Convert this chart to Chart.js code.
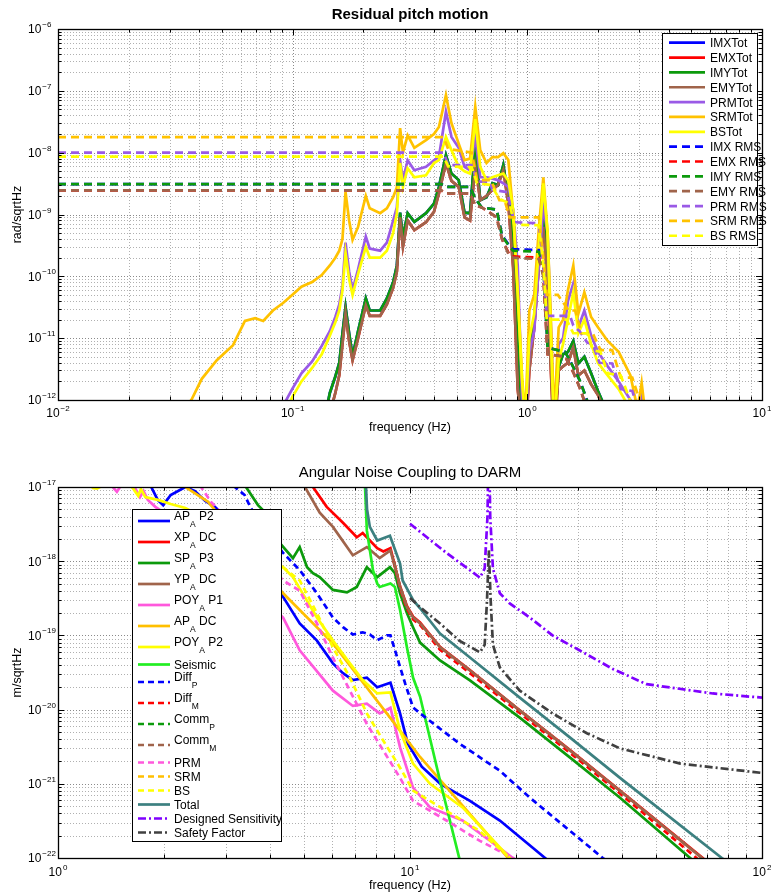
<!DOCTYPE html>
<html>
<head>
<meta charset="utf-8">
<script src="https://cdn.jsdelivr.net/npm/chart.js@4.4.1/dist/chart.umd.min.js"></script>
<style>
  html, body { margin: 0; padding: 0; background: #fff; }
  #wrap { position: relative; width: 771px; height: 895px; }
  canvas { position: absolute; left: 0; }
  #top { top: 0; }
  #bottom { top: 445px; }
</style>
</head>
<body>
<div id="wrap">
  <canvas id="top" width="771" height="445"></canvas>
  <canvas id="bottom" width="771" height="450"></canvas>
</div>
<script>
// ---------- Residual pitch motion (rad/sqrtHz) ----------
var topFreq = [
  0.035, 0.037, 0.041, 0.0475, 0.0557, 0.0626, 0.0692, 0.0749, 0.0824, 0.091, 0.0995, 0.109,
  0.121, 0.133, 0.144, 0.152, 0.158, 0.163, 0.168, 0.174, 0.18, 0.19, 0.205, 0.213,
  0.236, 0.252, 0.268, 0.278, 0.287, 0.295, 0.309, 0.33, 0.37, 0.40, 0.42, 0.45,
  0.475, 0.51, 0.54, 0.57, 0.60, 0.63, 0.67, 0.71, 0.75, 0.79, 0.83, 0.87,
  0.91, 0.95, 0.98, 1.02, 1.07, 1.12, 1.17, 1.22, 1.26, 1.30, 1.36, 1.42,
  1.49, 1.57, 1.65, 1.75, 1.87, 2.0, 2.2, 2.45, 2.75, 2.95, 3.07, 3.2
];
var imxTot = [
  1e-13, 1e-13, 1e-13, 1e-13, 1e-13, 1e-13, 1e-13, 1e-13, 1e-13, 1e-13, 1e-13, 1e-13,
  1e-13, 3e-13, 1.3e-12, 2.4e-12, 4e-12, 1.2e-11, 3.2e-11, 1.2e-11, 5.2e-12, 1.3e-11, 4.4e-11, 2.8e-11,
  2.8e-11, 4.4e-11, 8e-11, 1.5e-10, 1.07e-9, 4.3e-10, 1.05e-9, 7.6e-10, 1.05e-9, 1.5e-9, 2.8e-9, 9.1e-9,
  4.6e-9, 3.6e-9, 1.07e-9, 1.05e-9, 1.3e-8, 1.7e-9, 1.9e-9, 3.2e-9, 3e-9, 6.3e-9, 1.9e-9, 4.3e-10,
  1.2e-11, 5e-13, 3e-13, 5e-12, 2e-11, 2e-10, 1.15e-9, 1.4e-10, 5e-12, 3e-13, 3.4e-12, 5.5e-12,
  6e-12, 9e-12, 3.9e-12, 5e-12, 2.7e-12, 1.4e-12, 6e-13, 2e-13, 1e-13, 1e-13, 1e-13, 1e-13
];
var emxTot = [
  1e-13, 1e-13, 1e-13, 1e-13, 1e-13, 1e-13, 1e-13, 1e-13, 1e-13, 1e-13, 1e-13, 1e-13,
  1e-13, 2e-13, 6e-13, 1.3e-12, 2.5e-12, 8e-12, 2.5e-11, 9e-12, 4.4e-12, 1e-11, 3.4e-11, 2.3e-11,
  2.3e-11, 3.5e-11, 6.5e-11, 1.2e-10, 9e-10, 3e-10, 8e-10, 5.6e-10, 7.5e-10, 1.1e-9, 2.2e-9, 6.8e-9,
  3.5e-9, 2.8e-9, 9e-10, 8e-10, 5.9e-9, 1.7e-9, 2e-9, 2.5e-9, 3e-9, 5.2e-9, 1.5e-9, 1.4e-10,
  1.5e-12, 3e-13, 2e-13, 3e-12, 1.5e-11, 1.5e-10, 6.6e-10, 8e-11, 3e-12, 2e-13, 3e-12, 3.5e-12,
  4e-12, 7e-12, 2.5e-12, 3e-12, 1.8e-12, 1.2e-12, 5e-13, 1e-13, 1e-13, 1e-13, 1e-13, 1e-13
];
var imyTot = [
  1e-13, 1e-13, 1e-13, 1e-13, 1e-13, 1e-13, 1e-13, 1e-13, 1e-13, 1e-13, 1e-13, 1e-13,
  1e-13, 3e-13, 1.3e-12, 2.4e-12, 4e-12, 1.2e-11, 3.2e-11, 1.2e-11, 5.2e-12, 1.3e-11, 4.4e-11, 2.8e-11,
  2.8e-11, 4.4e-11, 8e-11, 1.5e-10, 1.07e-9, 4.3e-10, 1.05e-9, 7.6e-10, 1.05e-9, 1.5e-9, 2.8e-9, 9.1e-9,
  4.6e-9, 3.6e-9, 1.07e-9, 1.05e-9, 1.3e-8, 1.7e-9, 1.9e-9, 3.2e-9, 3e-9, 6.3e-9, 1.9e-9, 4.3e-10,
  1.2e-11, 5e-13, 3e-13, 5e-12, 2e-11, 2e-10, 1.05e-9, 1.4e-10, 5e-12, 3e-13, 3.4e-12, 5.5e-12,
  6e-12, 9e-12, 3.9e-12, 5e-12, 2.7e-12, 1.4e-12, 6e-13, 2e-13, 1e-13, 1e-13, 1e-13, 1e-13
];
var emyTot = [
  1e-13, 1e-13, 1e-13, 1e-13, 1e-13, 1e-13, 1e-13, 1e-13, 1e-13, 1e-13, 1e-13, 1e-13,
  1e-13, 2e-13, 6e-13, 1.3e-12, 2.5e-12, 8e-12, 2.5e-11, 9e-12, 4.4e-12, 1e-11, 3.4e-11, 2.3e-11,
  2.3e-11, 3.5e-11, 6.5e-11, 1.2e-10, 9e-10, 3e-10, 8e-10, 5.6e-10, 7.5e-10, 1.1e-9, 2.2e-9, 6.8e-9,
  3.5e-9, 2.8e-9, 9e-10, 8e-10, 5.9e-9, 1.7e-9, 2e-9, 2.5e-9, 3e-9, 5.2e-9, 1.5e-9, 1.4e-10,
  1.5e-12, 3e-13, 2e-13, 3e-12, 1.5e-11, 1.5e-10, 6.3e-10, 8e-11, 3e-12, 2e-13, 3e-12, 3.5e-12,
  4e-12, 7e-12, 2.5e-12, 3e-12, 1.8e-12, 1.2e-12, 5e-13, 1e-13, 1e-13, 1e-13, 1e-13, 1e-13
];
var prmTot = [
  1e-13, 1e-13, 1e-13, 1e-13, 1e-13, 1e-13, 1e-13, 1e-13, 3e-13, 8e-13, 1.5e-12, 2.7e-12,
  4.2e-12, 7.5e-12, 1.3e-11, 2.2e-11, 3.5e-11, 7e-11, 3.5e-10, 1.2e-10, 6e-11, 1.3e-10, 4.4e-10, 2.8e-10,
  2.6e-10, 3.5e-10, 8e-10, 1.3e-9, 7.5e-9, 3.6e-9, 7.5e-9, 5.2e-9, 5.9e-9, 7.5e-9, 8.5e-9, 4.6e-8,
  1.8e-8, 1.2e-8, 5.9e-9, 5.2e-9, 1.8e-8, 4e-9, 4e-9, 3.8e-9, 3.6e-9, 3.2e-9, 2.8e-9, 1.2e-9,
  1.5e-10, 1e-12, 3e-13, 6e-12, 1.3e-11, 1.5e-10, 1.3e-9, 5e-10, 1.5e-11, 4e-13, 8e-12, 1e-11,
  4e-11, 7.7e-11, 1.5e-11, 2.8e-11, 1.1e-11, 6e-12, 3.5e-12, 2e-12, 1e-12, 6e-13, 1.2e-12, 4e-13
];
var srmTot = [
  8e-13, 1e-12, 2.2e-12, 4.4e-12, 7.7e-12, 1.9e-11, 2.1e-11, 1.9e-11, 2.8e-11, 3.7e-11, 5e-11, 6.8e-11,
  8.1e-11, 1.05e-10, 1.5e-10, 2e-10, 2.6e-10, 4e-10, 2.3e-9, 8e-10, 3.9e-10, 6.3e-10, 2e-9, 1.26e-9,
  1.05e-9, 1.26e-9, 1.9e-9, 2.75e-9, 2.5e-8, 1e-8, 1.9e-8, 1.2e-8, 1.6e-8, 2e-8, 2.6e-8, 8.5e-8,
  3e-8, 1.4e-8, 7.6e-9, 8e-9, 5.5e-8, 1.1e-8, 6.8e-9, 8.5e-9, 8.5e-9, 9.8e-9, 7.6e-9, 1.05e-9,
  6e-11, 2.3e-12, 5e-13, 2.8e-11, 5e-11, 6e-10, 4e-9, 5e-10, 2e-11, 5e-13, 1.5e-11, 2e-11,
  6e-11, 1.5e-10, 2.5e-11, 5.5e-11, 2.2e-11, 1.5e-11, 9e-12, 6e-12, 2.5e-12, 7e-13, 1.9e-12, 5e-13
];
var bsTot = [
  1e-13, 1e-13, 1e-13, 1e-13, 1e-13, 1e-13, 1e-13, 1e-13, 2e-13, 5e-13, 1.1e-12, 2e-12,
  3.3e-12, 5.5e-12, 1.1e-11, 1.8e-11, 2.8e-11, 6e-11, 2.4e-10, 9e-11, 5e-11, 1.1e-10, 3e-10, 2e-10,
  2e-10, 2.6e-10, 5e-10, 1.05e-9, 6.8e-9, 2.8e-9, 5.6e-9, 4e-9, 4.3e-9, 6.8e-9, 7.6e-9, 1.8e-8,
  1.1e-8, 5.9e-9, 5e-9, 4.6e-9, 3.5e-8, 5.9e-9, 3.6e-9, 4e-9, 4.3e-9, 4.6e-9, 3.5e-9, 1.2e-9,
  5e-11, 2e-12, 4e-13, 1e-11, 2.5e-11, 3e-10, 3.2e-9, 5e-10, 1e-11, 3e-13, 4.4e-12, 8e-12,
  2e-11, 5.5e-11, 1.2e-11, 2e-11, 8e-12, 4e-12, 2.5e-12, 1.5e-12, 7e-13, 4e-13, 5e-13, 3e-13
];

// cumulative RMS curves
var testRmsFreq = [0.01, 0.43, 0.45, 0.57, 0.60, 0.64, 0.74, 0.78, 0.84, 0.87, 1.12, 1.17, 1.22, 1.45, 1.57, 1.67, 1.78, 1.9];
var imxRms = [3.1e-9, 3.1e-9, 2.8e-9, 2.8e-9, 1.8e-9, 1.3e-9, 1.2e-9, 4.6e-10, 3.1e-10, 2.75e-10, 2.65e-10, 1.6e-10, 7e-12, 6e-12, 3.4e-12, 2.1e-12, 1.1e-12, 5e-13];
var emxRms = [2.45e-9, 2.45e-9, 2.2e-9, 2.2e-9, 1.4e-9, 1.3e-9, 9e-10, 4e-10, 2.2e-10, 2.1e-10, 2e-10, 1.05e-10, 5.5e-12, 5e-12, 2.8e-12, 1.6e-12, 8e-13, 4e-13];
var imyRms = [3.1e-9, 3.1e-9, 2.8e-9, 2.8e-9, 1.8e-9, 1.3e-9, 1.2e-9, 4.5e-10, 3e-10, 2.6e-10, 2.5e-10, 1.5e-10, 7e-12, 6e-12, 3.4e-12, 2.1e-12, 1.1e-12, 5e-13];
var emyRms = [2.45e-9, 2.45e-9, 2.2e-9, 2.2e-9, 1.4e-9, 1.3e-9, 9e-10, 4e-10, 2.1e-10, 2e-10, 1.9e-10, 1e-10, 5.5e-12, 5e-12, 2.8e-12, 1.6e-12, 8e-13, 4e-13];
var prmRmsFreq = [0.01, 0.44, 0.46, 0.58, 0.61, 0.69, 0.71, 0.82, 0.88, 1.12, 1.17, 1.21, 1.52, 1.57, 1.67, 1.8, 1.9, 2.03, 2.3, 2.5, 2.8, 3.0];
var prmRms = [1e-8, 1e-8, 6.3e-9, 6.3e-9, 3.4e-9, 3.4e-9, 2.5e-9, 2.3e-9, 7.5e-10, 7.2e-10, 1.5e-10, 2.3e-11, 2.3e-11, 1.6e-11, 1.3e-11, 8.5e-12, 8e-12, 4e-12, 3.9e-12, 1.5e-12, 1.4e-12, 6e-13];
var srmRmsFreq = [0.01, 0.44, 0.46, 0.58, 0.61, 0.70, 0.76, 0.80, 0.84, 1.12, 1.17, 1.21, 1.35, 1.5, 1.6, 1.7, 1.9, 2.05, 2.3, 2.5, 2.8, 3.1];
var srmRms = [1.78e-8, 1.78e-8, 1.15e-8, 1.0e-8, 3.6e-9, 3.6e-9, 1.7e-9, 1.7e-9, 9e-10, 9e-10, 2e-10, 5e-11, 5e-11, 2.8e-11, 2.8e-11, 1.2e-11, 1.2e-11, 6.4e-12, 6.4e-12, 2.3e-12, 2.3e-12, 7e-13];
var bsRmsFreq = [0.01, 0.44, 0.46, 0.58, 0.61, 0.70, 0.76, 0.84, 0.88, 1.12, 1.17, 1.21, 1.47, 1.57, 1.8, 1.9, 2.05, 2.2, 2.5, 2.8];
var bsRms = [8.6e-9, 8.6e-9, 6e-9, 5.8e-9, 3.2e-9, 3.0e-9, 1.8e-9, 1.5e-9, 6.8e-10, 6.7e-10, 1.5e-10, 2e-11, 2e-11, 1.2e-11, 1.2e-11, 6.4e-12, 6e-12, 2.7e-12, 2.5e-12, 8e-13];

// ---------- Angular Noise Coupling to DARM (m/sqrtHz) ----------
var apP2Freq = [1.7, 1.84, 1.92, 1.99, 2.09, 2.3, 2.45, 2.62, 2.79, 3.3, 3.9, 4.36, 4.86, 5.44, 6.04, 6.45, 6.88, 7.54, 8.07, 8.8, 9.37, 9.85, 10.8, 12.2, 14.8, 18.0, 24.2, 26];
var apP2 = [1.4e-17, 1e-17, 6.7e-18, 5.7e-18, 7.8e-18, 1e-17, 8.8e-18, 6.5e-18, 5.4e-18, 2.5e-18, 9e-19, 3.3e-19, 1.45e-19, 8.5e-20, 4.2e-20, 3.1e-20, 2.5e-20, 2.7e-20, 2e-20, 2.3e-20, 8.9e-21, 3.5e-21, 1.7e-21, 1e-21, 5.9e-22, 3.2e-22, 1e-22, 7.5e-23];
var xpDcFreq = [5.1, 5.3, 5.8, 6.45, 7.06, 7.34, 8.07, 8.4, 8.8, 9.37, 9.8, 10.2, 10.68, 12.17, 14.8, 20.5, 28.5, 39.5, 67.5, 75];
var xpDc = [1.4e-17, 1e-17, 5.4e-18, 3.3e-18, 2.1e-18, 2.4e-18, 1.5e-18, 1.35e-18, 1.5e-18, 4.6e-19, 2.5e-19, 1.8e-19, 1.5e-19, 7e-20, 3.4e-20, 9.8e-21, 2.85e-21, 8.1e-22, 1.02e-22, 6.8e-23];
var spP3Freq = [3.3, 3.42, 3.7, 3.82, 4.19, 4.27, 4.65, 4.86, 5.1, 5.3, 5.54, 6.04, 6.62, 7.06, 7.54, 8.07, 8.77, 9.06, 9.37, 9.8, 10.2, 10.68, 12.17, 14.8, 20.5, 28.5, 39.5, 62.5, 70];
var spP3 = [1.3e-17, 1e-17, 5.7e-18, 4.9e-18, 2.1e-18, 1.75e-18, 1.1e-18, 1.55e-18, 8.3e-19, 6.9e-19, 6.1e-19, 4.1e-19, 3.8e-19, 4.5e-19, 8.3e-19, 6.1e-19, 8.3e-19, 6.9e-19, 3.7e-19, 2e-19, 1.29e-19, 8e-20, 4.6e-20, 2.47e-20, 7.8e-21, 2.25e-21, 6.5e-22, 1e-22, 6.3e-23];
var ypDcFreq = [4.8, 5.03, 5.54, 6.04, 6.88, 7.54, 8.2, 8.8, 9.37, 9.8, 10.2, 10.68, 12.17, 14.8, 20.5, 28.5, 39.5, 67.5, 75];
var ypDc = [1.4e-17, 1e-17, 4.5e-18, 2.9e-18, 1.2e-18, 1.55e-18, 1.1e-18, 1.4e-18, 4.5e-19, 2.4e-19, 1.75e-19, 1.45e-19, 6.9e-20, 3.36e-20, 9.7e-21, 2.8e-21, 8e-22, 1e-22, 6.6e-23];
var poyP1Freq = [1.39, 1.43, 1.47, 1.5, 1.56, 1.66, 1.71, 1.75, 1.8, 1.89, 2.4, 3.2, 4.36, 4.86, 6.04, 6.88, 7.54, 8.2, 8.8, 9.37, 10.2, 11.4, 14.1, 16.9, 19.6, 21];
var poyP1 = [1.3e-17, 1e-17, 8.6e-18, 1e-17, 1.15e-17, 9.4e-18, 7.3e-18, 8.8e-18, 6.7e-18, 5.4e-18, 2.5e-18, 7e-19, 1.74e-19, 6.3e-20, 1.8e-20, 1.12e-20, 1.2e-20, 8.9e-21, 1.06e-20, 3.1e-21, 8.9e-22, 4.8e-22, 3.2e-22, 1.7e-22, 1e-22, 8e-23];
var apDcFreq = [2.2, 2.3, 2.67, 4.36, 6.04, 9.37, 10.68, 19.0, 21];
var apDc = [1.3e-17, 1e-17, 6.3e-18, 3.7e-19, 7.8e-20, 5.2e-21, 2.3e-21, 1e-22, 5.7e-23];
var poyP2Freq = [1.19, 1.257, 1.29, 1.316, 1.35, 1.5, 1.63, 1.69, 1.72, 1.77, 1.92, 2.09, 2.3, 3.2, 4.36, 4.65, 5.44, 6.04, 6.75, 7.34, 8.07, 8.8, 9.37, 10.2, 11.4, 14.1, 19.2, 21];
var poyP2 = [1.25e-17, 9.7e-18, 9.5e-18, 1e-17, 1.3e-17, 1.4e-17, 9.7e-18, 7.6e-18, 9.4e-18, 7.3e-18, 6.7e-18, 5.9e-18, 5.2e-18, 2.3e-18, 8.3e-19, 6.1e-19, 1.74e-19, 8.5e-20, 4.2e-20, 2.5e-20, 1.65e-20, 1.7e-20, 5.2e-21, 1.87e-21, 1e-21, 4.8e-22, 1e-22, 7e-23];
var seismicFreq = [7.35, 7.54, 7.85, 8.07, 8.2, 8.8, 9.06, 9.37, 9.8, 10.2, 10.68, 12.17, 13.8, 15];
var seismic = [5e-17, 2.6e-18, 7.5e-19, 5e-19, 4.5e-19, 5e-19, 4.5e-19, 2.2e-19, 6.9e-20, 2.7e-20, 1.5e-20, 1.1e-21, 1e-22, 1.8e-23];
var diffPFreq = [3.0, 3.18, 3.39, 3.53, 4.0, 4.36, 4.86, 5.44, 6.04, 6.45, 6.88, 7.34, 7.69, 8.07, 8.6, 8.8, 9.25, 9.7, 10.2, 10.68, 13.8, 18.0, 21.9, 35.3, 40];
var diffP = [1.3e-17, 1e-17, 7.8e-18, 5.2e-18, 2.3e-18, 1.29e-18, 7.6e-19, 3.7e-19, 1.74e-19, 1.29e-19, 1.03e-19, 1.1e-19, 1.03e-19, 8.6e-20, 1e-19, 1e-19, 4.6e-20, 2.2e-20, 1.07e-20, 8.9e-21, 3.5e-21, 1.5e-21, 6.5e-22, 1e-22, 6.5e-23];
var diffMFreq = [9.0, 9.37, 9.8, 10.2, 10.68, 12.17, 14.8, 20.5, 28.5, 39.5, 66, 75];
var diffM = [1e-18, 4.3e-19, 2.3e-19, 1.65e-19, 1.38e-19, 6.4e-20, 3.1e-20, 9e-21, 2.6e-21, 7.4e-22, 9.5e-23, 5.8e-23];
var commPFreq = [];
var commP = [];
var commMFreq = [9.0, 9.37, 9.8, 10.2, 10.68, 12.17, 14.8, 20.5, 28.5, 39.5, 67.5, 75];
var commM = [1e-18, 4.5e-19, 2.4e-19, 1.75e-19, 1.45e-19, 6.9e-20, 3.36e-20, 9.7e-21, 2.8e-21, 8e-22, 1e-22, 6.6e-23];
var prmDashFreq = [2.4, 2.55, 2.72, 3.5, 4.36, 4.86, 5.44, 6.04, 6.75, 7.54, 8.4, 9.37, 10.2, 12.7, 15.8, 19.6, 21];
var prmDash = [1.3e-17, 1e-17, 6.3e-18, 1.8e-18, 5.5e-19, 4e-19, 1.45e-19, 5e-20, 1.8e-20, 6.4e-21, 2.8e-21, 1.2e-21, 5.9e-22, 3.2e-22, 1.7e-22, 1e-22, 8e-23];
var srmDashFreq = [];
var srmDash = [];
var bsDashFreq = [2.9, 3.5, 4.36, 4.86, 5.44, 6.04, 6.75, 7.54, 8.4, 9.37, 10.2, 12.7, 15.8, 19.2, 21];
var bsDash = [4e-18, 2e-18, 8.3e-19, 5.5e-19, 2e-19, 6.9e-20, 2.7e-20, 8.9e-21, 3.8e-21, 1.65e-21, 8.1e-22, 4.3e-22, 2.3e-22, 1e-22, 7e-23];
var totalFreq = [7.45, 7.55, 7.69, 8.07, 8.77, 9.37, 9.53, 10.2, 10.68, 12.17, 14.8, 20.5, 28.5, 39.5, 76.9, 85];
var total = [2e-17, 5e-18, 2.9e-18, 1.9e-18, 2.2e-18, 9.3e-19, 5.5e-19, 3e-19, 2.32e-19, 1.06e-19, 5.04e-20, 1.45e-20, 4.19e-21, 1.2e-21, 1e-22, 7e-23];
var designFreq = [10, 12.7, 15.8, 16.3, 16.6, 16.75, 16.9, 17.2, 18.0, 19.2, 21.9, 25.4, 30.3, 37.8, 47, 72.5, 100];
var design = [3.2e-18, 1.29e-18, 6e-19, 8e-19, 4e-18, 6e-17, 4e-18, 8e-19, 3.7e-19, 2.7e-19, 1.74e-19, 1e-19, 6.3e-20, 3.5e-20, 2.2e-20, 1.65e-20, 1.45e-20];
var safetyFreq = [10, 10.68, 12.17, 13.8, 15.8, 16.3, 16.55, 16.75, 16.95, 17.2, 18.0, 20.5, 25.4, 31.8, 39.5, 58.6, 100];
var safety = [3.2e-19, 2.4e-19, 1.45e-19, 8.5e-20, 5.9e-20, 7.5e-20, 3e-19, 1.4e-18, 3e-19, 7.5e-20, 3.7e-20, 1.8e-20, 8.9e-21, 4.8e-21, 3e-21, 1.87e-21, 1.4e-21];

// ---------- drawing helpers ----------
var FONT = "'Liberation Sans', Arial, Helvetica, sans-serif";
var DASH = [8, 5];
var DASH2 = [6, 4];
var DASHDOT = [8, 3, 2, 3];

function pts(freq, vals) {
  return freq.map(function (f, i) { return { x: f, y: vals[i] }; });
}

function serie(label, freq, vals, color, dash) {
  return {
    label: label, data: pts(freq, vals), borderColor: color, borderWidth: 2.7,
    borderDash: dash || [], pointRadius: 0, fill: false, tension: 0, clip: 0
  };
}

function logGrid(min, max) {
  var out = [];
  var e0 = Math.floor(Math.log10(min) + 1e-9), e1 = Math.round(Math.log10(max));
  for (var e = e0; e <= e1; e++) {
    for (var m = 1; m <= 9; m++) {
      var v = m * Math.pow(10, e);
      if (v >= min * 0.999 && v <= max * 1.001) out.push({ v: v, major: m === 1 });
    }
  }
  return out;
}

function expText(e) { return e < 0 ? '\u2212' + (-e) : String(e); }

function drawLegend(chart, lg) {
  var ctx = chart.ctx;
  ctx.save();
  ctx.fillStyle = '#fff';
  ctx.fillRect(lg.x, lg.y, lg.w, lg.h);
  ctx.strokeStyle = '#000';
  ctx.lineWidth = 1;
  ctx.setLineDash([]);
  ctx.strokeRect(lg.x + 0.5, lg.y + 0.5, lg.w, lg.h);
  var cy = lg.y + lg.first, prevH = null;
  chart.data.datasets.forEach(function (ds) {
    var parts = ds.label.split('_');
    var hasSub = parts.length > 1;
    var h = hasSub ? lg.rowSub : lg.rowPlain;
    if (prevH !== null) cy += (prevH + h) / 2;
    prevH = h;
    ctx.strokeStyle = ds.borderColor;
    ctx.lineWidth = ds.borderWidth;
    ctx.setLineDash(ds.borderDash);
    ctx.beginPath();
    ctx.moveTo(lg.lineX0, cy);
    ctx.lineTo(lg.lineX1, cy);
    ctx.stroke();
    ctx.fillStyle = '#000';
    ctx.textAlign = 'left';
    ctx.textBaseline = 'alphabetic';
    ctx.font = lg.font;
    if (!hasSub) {
      ctx.fillText(ds.label, lg.textX, cy + 4.5);
    } else {
      var x = lg.textX;
      ctx.fillText(parts[0], x, cy - 1);
      x += ctx.measureText(parts[0]).width;
      ctx.font = lg.subFont;
      var sub = parts[1].charAt(0), rest = parts[1].slice(1);
      ctx.fillText(sub, x, cy + 6);
      x += ctx.measureText(sub).width;
      ctx.font = lg.font;
      if (rest) ctx.fillText(rest, x, cy - 1);
    }
  });
  ctx.restore();
}

var axesDecor = {
  id: 'axesDecor',
  beforeDatasetsDraw: function (chart, args, o) {
    var ctx = chart.ctx, a = chart.chartArea, x = chart.scales.x, y = chart.scales.y;
    ctx.save();
    ctx.lineWidth = 1;
    ctx.setLineDash([1, 2]);
    logGrid(x.min, x.max).forEach(function (t) {
      var px = Math.round(x.getPixelForValue(t.v)) + 0.5;
      ctx.strokeStyle = t.major ? '#8a8a8a' : '#b0b0b0';
      ctx.beginPath(); ctx.moveTo(px, a.top); ctx.lineTo(px, a.bottom); ctx.stroke();
    });
    logGrid(y.min, y.max).forEach(function (t) {
      var py = Math.round(y.getPixelForValue(t.v)) + 0.5;
      ctx.strokeStyle = t.major ? '#8a8a8a' : '#b0b0b0';
      ctx.beginPath(); ctx.moveTo(a.left, py); ctx.lineTo(a.right, py); ctx.stroke();
    });
    ctx.restore();
  },
  afterDatasetsDraw: function (chart, args, o) {
    var ctx = chart.ctx, a = chart.chartArea, x = chart.scales.x, y = chart.scales.y;
    ctx.save();
    ctx.strokeStyle = '#000';
    ctx.lineWidth = 1;
    ctx.setLineDash([]);
    ctx.beginPath();
    logGrid(x.min, x.max).forEach(function (t) {
      var px = Math.round(x.getPixelForValue(t.v)) + 0.5, len = t.major ? 6 : 3.5;
      ctx.moveTo(px, a.bottom); ctx.lineTo(px, a.bottom - len);
      ctx.moveTo(px, a.top); ctx.lineTo(px, a.top + len);
    });
    logGrid(y.min, y.max).forEach(function (t) {
      var py = Math.round(y.getPixelForValue(t.v)) + 0.5, len = t.major ? 6 : 3.5;
      ctx.moveTo(a.left, py); ctx.lineTo(a.left + len, py);
      ctx.moveTo(a.right, py); ctx.lineTo(a.right - len, py);
    });
    ctx.stroke();
    ctx.lineWidth = 1.3;
    ctx.strokeRect(Math.round(a.left) + 0.5, Math.round(a.top) + 0.5,
      Math.round(a.right - a.left), Math.round(a.bottom - a.top));
    ctx.restore();
    drawLegend(chart, o.legend);
  },
  afterDraw: function (chart, args, o) {
    var ctx = chart.ctx, a = chart.chartArea, x = chart.scales.x, y = chart.scales.y;
    var big = '12px ' + FONT, small = '8px ' + FONT;
    ctx.save();
    ctx.fillStyle = '#000';
    ctx.textBaseline = 'alphabetic';
    ctx.textAlign = 'left';
    logGrid(x.min, x.max).filter(function (t) { return t.major; }).forEach(function (t) {
      var e = Math.round(Math.log10(t.v)), ex = expText(e);
      var px = x.getPixelForValue(t.v);
      ctx.font = big; var w1 = ctx.measureText('10').width;
      ctx.font = small; var w2 = ctx.measureText(ex).width;
      var x0 = px - (w1 + w2 + 1) / 2;
      ctx.font = big; ctx.fillText('10', x0, a.bottom + o.xTickDy + 4.3);
      ctx.font = small; ctx.fillText(ex, x0 + w1 + 1, a.bottom + o.xTickDy - 2);
    });
    logGrid(y.min, y.max).filter(function (t) { return t.major; }).forEach(function (t) {
      var e = Math.round(Math.log10(t.v)), ex = expText(e);
      var py = y.getPixelForValue(t.v);
      ctx.font = big; var w1 = ctx.measureText('10').width;
      ctx.fillText('10', a.left - 30, py + 4.3);
      ctx.font = small; ctx.fillText(ex, a.left - 30 + w1 + 1, py - 2);
    });
    // title and axis labels
    ctx.textAlign = 'center';
    ctx.font = o.titleFont;
    ctx.fillText(o.title, (a.left + a.right) / 2, o.titleY);
    ctx.font = '12.5px ' + FONT;
    ctx.fillText(o.xLabel, (a.left + a.right) / 2, o.xLabelY);
    ctx.translate(21, (a.top + a.bottom) / 2);
    ctx.rotate(-Math.PI / 2);
    ctx.fillText(o.yLabel, 0, 0);
    ctx.restore();
  }
};

function makeChart(id, datasets, xr, yr, pad, deco) {
  datasets.forEach(function (d, i) { d.order = -i; });
  return new Chart(document.getElementById(id), {
    type: 'line',
    data: { datasets: datasets },
    plugins: [axesDecor],
    options: {
      responsive: false,
      animation: false,
      devicePixelRatio: 1,
      events: [],
      layout: { padding: pad },
      scales: {
        x: { type: 'logarithmic', min: xr[0], max: xr[1], display: false },
        y: { type: 'logarithmic', min: yr[0], max: yr[1], display: false }
      },
      plugins: { legend: { display: false }, tooltip: { enabled: false }, axesDecor: deco }
    }
  });
}

// ---------- top chart ----------
makeChart('top', [
  serie('IMXTot', topFreq, imxTot, '#0000FF'),
  serie('EMXTot', topFreq, emxTot, '#FF0000'),
  serie('IMYTot', topFreq, imyTot, '#0C9A0C'),
  serie('EMYTot', topFreq, emyTot, '#A0644B'),
  serie('PRMTot', topFreq, prmTot, '#9A5AE6'),
  serie('SRMTot', topFreq, srmTot, '#FFC200'),
  serie('BSTot', topFreq, bsTot, '#FFFF00'),
  serie('IMX RMS', testRmsFreq, imxRms, '#0000FF', DASH),
  serie('EMX RMS', testRmsFreq, emxRms, '#FF0000', DASH),
  serie('IMY RMS', testRmsFreq, imyRms, '#0C9A0C', DASH),
  serie('EMY RMS', testRmsFreq, emyRms, '#A0644B', DASH),
  serie('PRM RMS', prmRmsFreq, prmRms, '#9A5AE6', DASH),
  serie('SRM RMS', srmRmsFreq, srmRms, '#FFC200', DASH),
  serie('BS RMS', bsRmsFreq, bsRms, '#FFFF00', DASH)
], [0.01, 10], [1e-12, 1e-6], { left: 58, right: 9, top: 29, bottom: 45 }, {
  title: 'Residual pitch motion', titleFont: 'bold 15px ' + FONT, titleY: 19,
  xLabel: 'frequency (Hz)', xLabelY: 431, yLabel: 'rad/sqrtHz', xTickDy: 13,
  legend: { x: 662, y: 33, w: 95, h: 212, first: 9.7, rowPlain: 14.85, rowSub: 14.85,
    lineX0: 669, lineX1: 705, textX: 710, font: '12px ' + FONT, subFont: '8.5px ' + FONT }
});

// ---------- bottom chart ----------
makeChart('bottom', [
  serie('AP_A P2', apP2Freq, apP2, '#0000FF'),
  serie('XP_A DC', xpDcFreq, xpDc, '#FF0000'),
  serie('SP_A P3', spP3Freq, spP3, '#0C9A0C'),
  serie('YP_A DC', ypDcFreq, ypDc, '#A0644B'),
  serie('POY_A P1', poyP1Freq, poyP1, '#FF58DC'),
  serie('AP_A DC', apDcFreq, apDc, '#FFBF00'),
  serie('POY_A P2', poyP2Freq, poyP2, '#FFFF00'),
  serie('Seismic', seismicFreq, seismic, '#22EE22'),
  serie('Diff_P', diffPFreq, diffP, '#0000FF', DASH2),
  serie('Diff_M', diffMFreq, diffM, '#FF0000', DASH2),
  serie('Comm_P', commPFreq, commP, '#0C9A0C', DASH2),
  serie('Comm_M', commMFreq, commM, '#A0644B', DASH2),
  serie('PRM', prmDashFreq, prmDash, '#FF58DC', DASH2),
  serie('SRM', srmDashFreq, srmDash, '#FFBF00', DASH2),
  serie('BS', bsDashFreq, bsDash, '#FFFF00', DASH2),
  serie('Total', totalFreq, total, '#3C8080'),
  serie('Designed Sensitivity', designFreq, design, '#7F00FF', DASHDOT),
  serie('Safety Factor', safetyFreq, safety, '#404040', DASHDOT)
], [1, 100], [1e-22, 1e-17], { left: 58, right: 9, top: 42, bottom: 37 }, {
  title: 'Angular Noise Coupling to DARM', titleFont: '15px ' + FONT, titleY: 32,
  xLabel: 'frequency (Hz)', xLabelY: 444, yLabel: 'm/sqrtHz', xTickDy: 14,
  legend: { x: 132, y: 64, w: 149, h: 332, first: 12, rowPlain: 14, rowSub: 21,
    lineX0: 138, lineX1: 170, textX: 174, font: '12px ' + FONT, subFont: '8.5px ' + FONT }
});
</script>
</body>
</html>
